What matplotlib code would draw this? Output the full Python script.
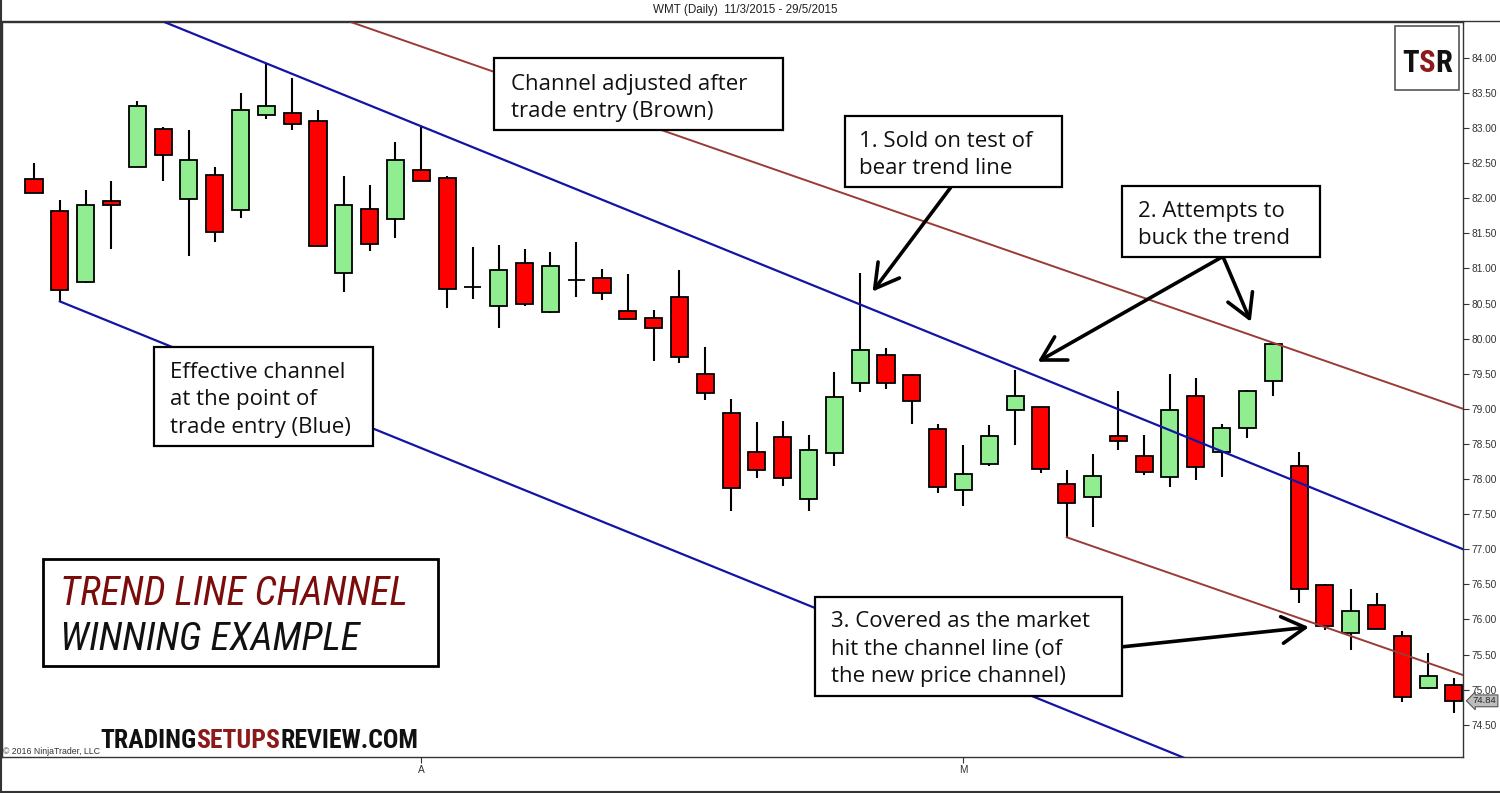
import matplotlib
matplotlib.use('Agg')
import matplotlib.pyplot as plt
from matplotlib.patches import Rectangle
from matplotlib.lines import Line2D
from matplotlib import font_manager

# WMT daily candles, 11/3/2015 - 29/5/2015
opens = [82.28, 81.82, 80.80, 81.96, 82.45, 82.99, 81.99, 82.33, 81.83, 83.19,
         83.21, 83.10, 80.93, 81.85, 81.70, 82.40, 82.29, 80.73, 80.46, 81.08,
         80.38, 80.84, 80.86, 80.40, 80.29, 80.59, 79.49, 78.94, 78.38, 78.60,
         77.72, 78.37, 79.37, 79.77, 79.48, 78.71, 77.84, 78.21, 78.99, 79.02,
         77.93, 77.74, 78.61, 78.33, 78.03, 79.18, 78.38, 78.72, 79.39, 78.19,
         76.49, 75.81, 76.21, 75.77, 75.02, 75.07]
highs = [82.50, 81.97, 82.12, 82.25, 83.38, 83.01, 82.97, 82.44, 83.50, 83.92,
         83.71, 83.25, 82.31, 82.19, 82.80, 83.03, 82.31, 81.30, 81.33, 81.28,
         81.23, 81.38, 80.99, 80.92, 80.41, 80.98, 79.88, 79.14, 78.81, 78.83,
         78.63, 79.53, 80.93, 79.86, 79.49, 78.78, 78.48, 78.77, 79.55, 79.03,
         78.13, 78.35, 79.26, 78.62, 79.49, 79.44, 78.78, 79.27, 79.94, 78.38,
         76.50, 76.43, 76.38, 75.84, 75.52, 75.16]
lows = [82.07, 80.53, 80.79, 81.28, 82.45, 82.25, 81.17, 81.38, 81.72, 83.13,
        82.97, 81.32, 80.66, 81.25, 81.43, 82.25, 80.43, 80.56, 80.15, 80.46,
        80.37, 80.59, 80.55, 80.28, 79.68, 79.65, 79.13, 77.55, 78.01, 77.90,
        77.55, 78.19, 79.24, 79.28, 78.79, 77.80, 77.61, 78.19, 78.48, 78.08,
        77.17, 77.31, 78.41, 78.05, 77.88, 77.99, 78.03, 78.59, 79.18, 76.24,
        75.85, 75.57, 75.86, 74.82, 75.01, 74.66]
closes = [82.07, 80.69, 81.90, 81.90, 83.31, 82.62, 82.54, 81.52, 83.25, 83.32,
          83.06, 81.32, 81.90, 81.35, 82.54, 82.25, 80.71, 80.73, 80.98, 80.49,
          81.03, 80.84, 80.65, 80.28, 80.15, 79.74, 79.23, 77.87, 78.13, 78.02,
          78.42, 79.17, 79.84, 79.37, 79.11, 77.89, 78.07, 78.61, 79.18, 78.14,
          77.66, 78.04, 78.54, 78.10, 78.98, 78.17, 78.73, 79.26, 79.93, 76.44,
          75.91, 76.12, 75.86, 74.90, 75.20, 74.84]

month_ticks = [15, 36]
month_labels = ['A', 'M']

# channel lines: two points on the upper line, start point of the parallel line
blue_upper = [(9, 83.92), (55.35, 77.00)]
blue_lower_start = (1, 80.53)
brown_upper = [(48, 79.94), (55.35, 79.00)]
brown_lower_start = (40, 77.17)

W, H = 1500, 793
XMIN, XMAX = -1.24, 55.35
YMIN, YMAX = 74.04, 84.51


def px(x, y):
    return x / W, 1 - y / H


def pick_narrow():
    names = {f.name for f in font_manager.fontManager.ttflist}
    for want in ['Roboto Condensed', 'Open Sans Condensed', 'Noto Sans ExtraCondensed',
                 'Noto Sans Condensed', 'Liberation Sans Narrow', 'Noto Sans SemiCondensed']:
        if want in names:
            return want
    return 'DejaVu Sans'


narrow = pick_narrow()
body_font = ['Open Sans', 'DejaVu Sans']
axis_font = ['Liberation Sans', 'DejaVu Sans']

fig = plt.figure(figsize=(W / 100, H / 100), dpi=100)
ax = fig.add_axes([2 / W, 36 / H, 1461 / W, 735 / H])
renderer = fig.canvas.get_renderer()

# candles
idx = list(range(len(opens)))
body_colors = ['#ff0000' if c < o else '#90ee90' for o, c in zip(opens, closes)]
ax.vlines(idx, lows, highs, color='black', lw=1.5, zorder=2)
ax.bar(idx, [abs(c - o) for o, c in zip(opens, closes)],
       bottom=[min(o, c) for o, c in zip(opens, closes)], width=0.66,
       color=body_colors, edgecolor='black', linewidth=1.3, zorder=3)


# channels
def slope(pts):
    (x1, y1), (x2, y2) = pts
    return (y2 - y1) / (x2 - x1)


blue = '#1414a4'
brown = '#9a3b36'
ax.axline(blue_upper[0], blue_upper[1], color=blue, lw=1.6, zorder=4)
ax.axline(brown_upper[0], brown_upper[1], color=brown, lw=1.4, zorder=4)
bx, by = blue_lower_start
ax.plot([bx, 70], [by, by + slope(blue_upper) * (70 - bx)], color=blue, lw=1.6, zorder=4)
rx, ry = brown_lower_start
ax.plot([rx, 70], [ry, ry + slope(brown_upper) * (70 - rx)], color=brown, lw=1.4, zorder=4)

ax.set_xlim(XMIN, XMAX)
ax.set_ylim(YMIN, YMAX)
ax.yaxis.tick_right()
ax.set_yticks([74.5 + 0.5 * k for k in range(20)])
ax.yaxis.set_major_formatter(matplotlib.ticker.FormatStrFormatter('%.2f'))
ax.set_xticks(month_ticks, month_labels)
ax.tick_params(direction='out', length=4, width=0.8, colors='#333333',
               labelsize=7.3, pad=2)
for lab in ax.get_xticklabels() + ax.get_yticklabels():
    lab.set_family(axis_font)
for s in ax.spines.values():
    s.set_color('#333333')
    s.set_linewidth(1.0)

# last price tag
ax.annotate(f'{closes[-1]:.2f}', xy=(1, closes[-1]), xycoords=('axes fraction', 'data'),
            xytext=(7, 0), textcoords='offset points', ha='left', va='center',
            fontsize=6.8, family=axis_font, color='#222222',
            bbox=dict(boxstyle='larrow,pad=0.15', fc='#bdbdbd', ec='#555555', lw=0.8))

# arrows (tail -> tip)
arrow_kw = dict(arrowstyle='->,head_length=0.7,head_width=0.4', lw=2.6, color='black',
                shrinkA=0, shrinkB=0, mutation_scale=24)
arrows = [((35.5, 82.15), (32.48, 80.67)),
          ((46.05, 81.17), (38.88, 79.67)),
          ((46.05, 81.17), (47.13, 80.24)),
          ((42.17, 75.61), (49.38, 75.89))]
for tail, tip in arrows:
    ax.annotate('', xy=tip, xytext=tail, arrowprops=arrow_kw, zorder=6)

# frame lines outside the axes
fig.add_artist(Line2D([0, 1], [1 - 21 / H] * 2, color='#333333', lw=1.0))
fig.add_artist(Line2D([0.5 / W] * 2, [0, 1], color='#333333', lw=1.5))
fig.add_artist(Line2D([0, 1], [1 - 792 / H] * 2, color='#333333', lw=1.5))

fig.text(*px(745, 10), 'WMT (Daily)  11/3/2015 - 29/5/2015', ha='center', va='center',
         fontsize=8.4, family=axis_font, color='#222222')
fig.text(*px(3, 754), '\u00a9 2016 NinjaTrader, LLC', ha='left', va='baseline',
         fontsize=6.3, family=axis_font, color='#333333')


def note_box(x0, y0, x1, y1, lines, tx, ty, lh=27.5, size=16, lw=1.6):
    fig.add_artist(Rectangle(px(x0, y1), (x1 - x0) / W, (y1 - y0) / H,
                             transform=fig.transFigure, fc='white', ec='black',
                             lw=lw, zorder=5))
    for k, line in enumerate(lines):
        fig.text(*px(tx, ty + k * lh), line, ha='left', va='baseline', fontsize=size,
                 family=body_font, color='#111111', zorder=6)


def fitted_text(x, y, parts, target_w, size=30, **kw):
    # text pieces side by side, font size chosen so the whole run is target_w px wide
    texts = [fig.text(0, 0, s, fontsize=size, ha='left', va='baseline', color=c,
                      zorder=7, **kw) for s, c in parts]
    total = sum(t.get_window_extent(renderer).width for t in texts)
    new_size = size * target_w / total
    cur = x
    for t in texts:
        t.set_fontsize(new_size)
        t.set_position(px(cur, y))
        cur += t.get_window_extent(renderer).width


note_box(494, 58, 783, 130, ['Channel adjusted after', 'trade entry (Brown)'], 511, 90)
note_box(845, 116, 1062, 187, ['1. Sold on test of', 'bear trend line'], 859, 147)
note_box(1122, 186, 1320, 257, ['2. Attempts to', 'buck the trend'], 1138, 217)
note_box(154, 347, 373, 446, ['Effective channel', 'at the point of',
                              'trade entry (Blue)'], 170, 378)
note_box(815, 597, 1122, 696, ['3. Covered as the market', 'hit the channel line (of',
                               'the new price channel)'], 831, 627)

# title box
fig.add_artist(Rectangle(px(43, 666), 395 / W, 107 / H, transform=fig.transFigure,
                         fc='white', ec='black', lw=2, zorder=5))
title_kw = dict(family=narrow, fontstretch='condensed', style='italic')
fitted_text(60, 605, [('TREND LINE CHANNEL', '#7b0c0c')], 348, **title_kw)
fitted_text(60, 650, [('WINNING EXAMPLE', '#111111')], 300, **title_kw)

# TSR logo
fig.add_artist(Rectangle(px(1395, 90), 64 / W, 64 / H, transform=fig.transFigure,
                         fc='white', ec='#555555', lw=1.2, zorder=5))
fitted_text(1402, 72, [('T', '#111111'), ('S', '#8b1a1a'), ('R', '#111111')], 50,
            family=narrow, fontstretch='condensed', weight='bold')

# site name
fitted_text(100, 748, [('TRADING', '#111111'), ('SETUPS', '#8b1a1a'),
                       ('REVIEW.COM', '#111111')], 318,
            family=narrow, fontstretch='condensed', weight='bold')

fig.savefig('out.png', dpi=100)
